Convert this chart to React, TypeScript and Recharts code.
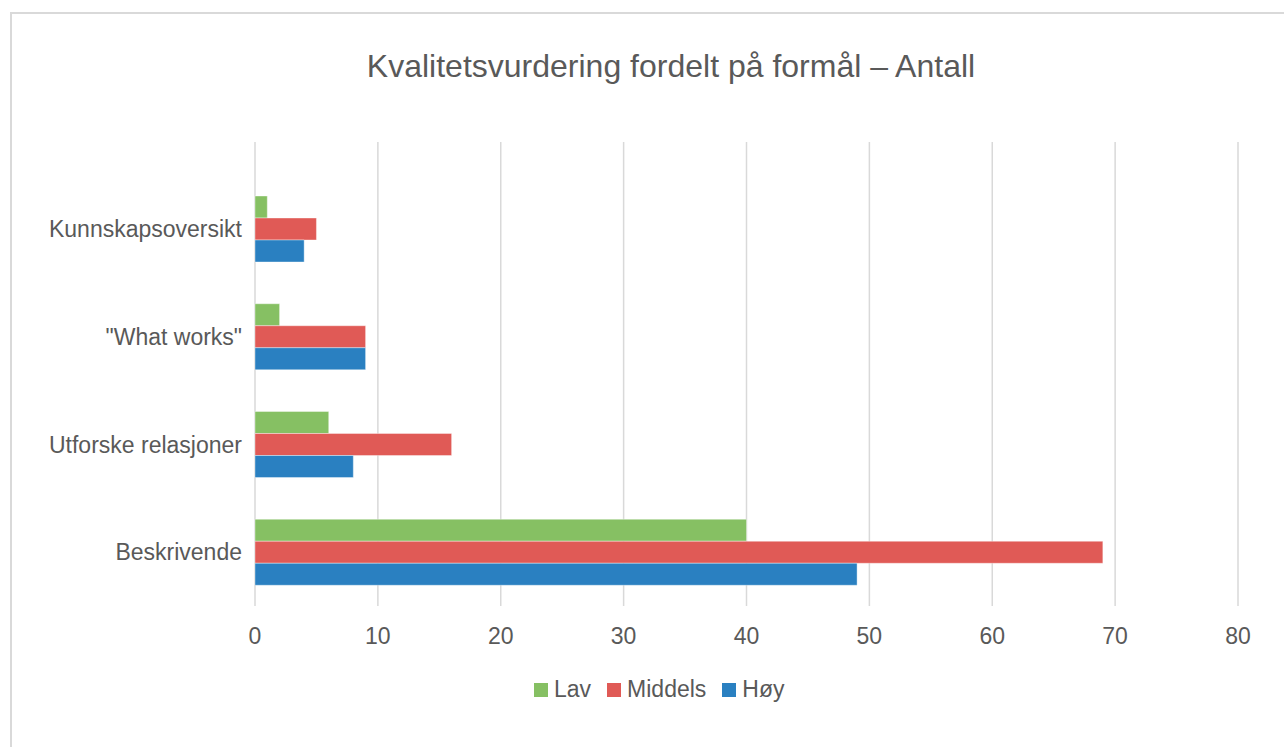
import { Bar, BarChart, CartesianGrid, XAxis, YAxis } from "recharts";

const categories = ["Kunnskapsoversikt", "\"What works\"", "Utforske relasjoner", "Beskrivende"];
const lav = [1, 2, 6, 40];
const middels = [5, 9, 16, 69];
const hoy = [4, 9, 8, 49];
const xTicks = [0, 10, 20, 30, 40, 50, 60, 70, 80];

const SERIES = [
  { key: "lav", name: "Lav", color: "#86C063" },
  { key: "middels", name: "Middels", color: "#E05A56" },
  { key: "hoy", name: "Høy", color: "#2A80C1" },
];

const data = categories.map((name, i) => ({
  name,
  lav: lav[i],
  middels: middels[i],
  hoy: hoy[i],
}));

const FONT = "'Liberation Sans', Arial, sans-serif";
const TEXT = "#595959";

function LegendBox() {
  return (
    <div
      style={{
        position: "absolute",
        left: 534,
        top: 676,
        display: "flex",
        alignItems: "center",
        fontFamily: FONT,
        fontSize: 23,
        color: TEXT,
      }}
    >
      {SERIES.map((s) => (
        <div key={s.key} style={{ display: "flex", alignItems: "center", marginRight: 16 }}>
          <span style={{ width: 14, height: 14, background: s.color, display: "inline-block", marginRight: 6 }} />
          <span>{s.name}</span>
        </div>
      ))}
    </div>
  );
}

export default function App() {
  return (
    <div style={{ position: "fixed", left: 0, top: 0, width: 1284, height: 747, background: "#fff", overflow: "hidden" }}>
      <div
        style={{
          position: "absolute",
          left: 10,
          top: 12,
          width: 1300,
          height: 760,
          border: "2px solid #D9D9D9",
          boxSizing: "border-box",
        }}
      />
      <div
        style={{
          position: "absolute",
          left: 0,
          width: 1342,
          top: 48,
          textAlign: "center",
          fontFamily: FONT,
          fontSize: 32,
          color: TEXT,
          whiteSpace: "nowrap",
        }}
      >
        Kvalitetsvurdering fordelt på formål – Antall
      </div>
      <div style={{ position: "absolute", left: 0, top: 0 }}>
        <BarChart
          width={1284}
          height={747}
          data={data}
          layout="vertical"
          margin={{ top: 142, right: 46, bottom: 0, left: 0 }}
          barSize={22}
          barGap={0}
        >
          <CartesianGrid horizontal={false} stroke="#D9D9D9" strokeWidth={1.5} />
          <XAxis
            type="number"
            domain={[0, 80]}
            ticks={xTicks}
            axisLine={false}
            tickLine={false}
            tickSize={0}
            tickMargin={22}
            height={141}
            tick={{ fill: TEXT, fontSize: 23, fontFamily: FONT }}
            interval={0}
          />
          <YAxis
            type="category"
            dataKey="name"
            width={255}
            axisLine={false}
            tickLine={false}
            tickSize={0}
            tickMargin={13}
            padding={{ top: 33, bottom: 0 }}
            tick={{ fill: TEXT, fontSize: 23, fontFamily: FONT }}
            interval={0}
          />
          {SERIES.map((s) => (
            <Bar
              key={s.key}
              dataKey={s.key}
              name={s.name}
              fill={s.color}
              stroke="#ffffff"
              strokeOpacity={0.5}
              strokeWidth={0.75}
              isAnimationActive={false}
            />
          ))}
        </BarChart>
      </div>
      <LegendBox />
    </div>
  );
}
